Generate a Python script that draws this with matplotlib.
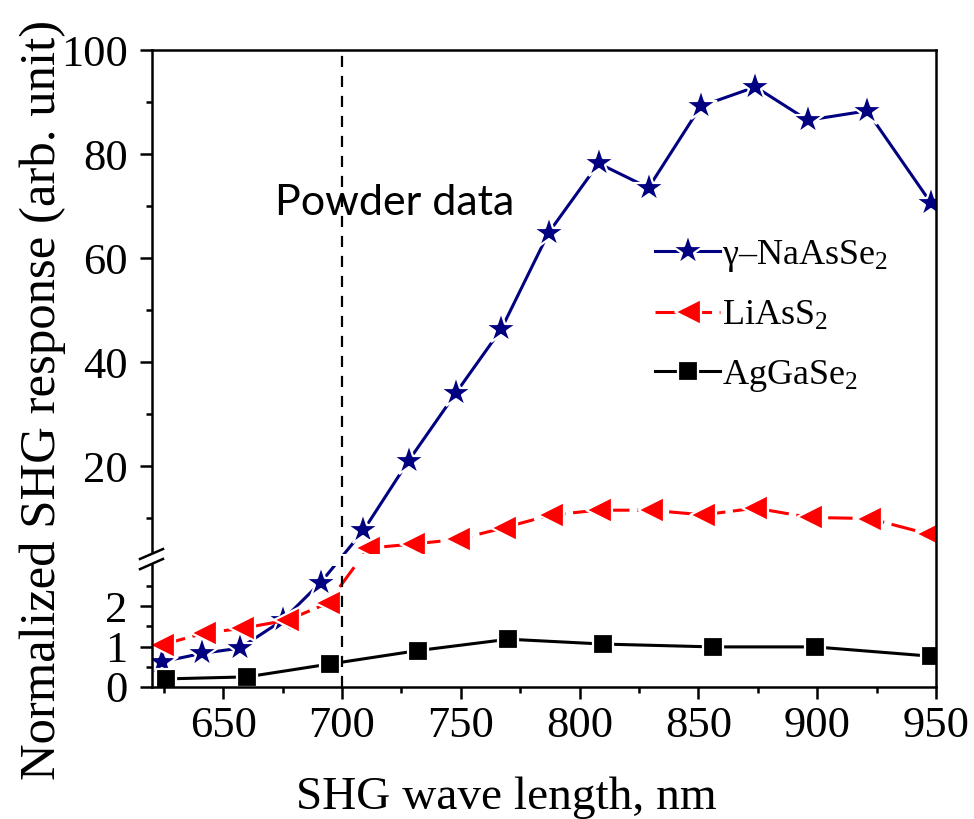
import numpy as np
import matplotlib
matplotlib.use('Agg')
import matplotlib.pyplot as plt

# data
wl_na = [624, 641, 657, 675, 691, 709, 728, 748, 767, 787, 808, 829, 851, 874, 896, 921, 948]
na = [0.62, 0.83, 0.96, 1.65, 2.58, 7.6, 21.0, 34.1, 46.3, 64.9, 78.2, 73.5, 89.2, 92.9, 86.5, 88.3, 70.5]

wl_li = [624, 642, 658, 677, 694, 711, 730, 749, 768, 788, 808, 830, 852, 874, 897, 922, 947]
li = [1.04, 1.33, 1.45, 1.65, 2.07, 4.2, 5.0, 5.9, 8.1, 10.6, 11.5, 11.5, 10.6, 11.9, 10.1, 9.9, 6.9]

wl_ag = [626, 660, 695, 732, 770, 810, 856, 899, 948]
ag = [0.2, 0.25, 0.57, 0.9, 1.18, 1.06, 0.99, 0.99, 0.76]

labels = ['γ–NaAsSe$_2$', 'LiAsS$_2$', 'AgGaSe$_2$']
xticks = [650, 700, 750, 800, 850, 900, 950]
yticks = [0, 1, 2, 20, 40, 60, 80, 100]
yminor = [0.5, 1.5, 2.5, 10, 30, 50, 70, 90]

plt.rcParams['font.family'] = ['Liberation Serif', 'DejaVu Serif']
plt.rcParams['mathtext.fontset'] = 'custom'
plt.rcParams['mathtext.rm'] = 'Liberation Serif'
plt.rcParams['mathtext.default'] = 'regular'

# broken y axis: 0-3 stretched, then 20-100 compressed (units ~ pixels)
LO, HI = 40.5, 5.2
OFF = 117.0
def fwd(y):
    y = np.asarray(y, dtype=float)
    return np.where(y <= 3, LO * y, OFF + HI * y)

def inv(v):
    v = np.asarray(v, dtype=float)
    return np.where(v <= 3 * LO, v / LO, np.where(v >= OFF + 3 * HI, (v - OFF) / HI, 3.0))

fig = plt.figure(figsize=(9.74, 8.19), dpi=100)
ax = fig.add_axes([152 / 974, 1 - 687 / 819, 784 / 974, 637 / 819])
ax.set_yscale('function', functions=(fwd, inv))

ax.axvline(700, color='black', lw=1.6, ls=(0, (5, 4)), zorder=2.3)

ax.plot(wl_na, na, color='#000080', lw=2.2, marker='*', ms=24, mec='white', mew=1.6,
        label=labels[0], zorder=2)
ax.plot(wl_li, li, color='#FF0000', lw=2.2, ls=(0, (8, 2.5)), marker='<', ms=19, mec='white', mew=1.6,
        label=labels[1], zorder=2)
ax.plot(wl_ag, ag, color='black', lw=2.2, marker='s', ms=14, mec='white', mew=1.6,
        label=labels[2], zorder=2)

# white band over the break
ax.axhspan(3, 3 + 1e-9, color='white', lw=0, zorder=2.2)

ax.set_xlim(620, 950)
ax.set_ylim(0, 100)
ax.set_xticks(xticks)
ax.set_xticks([625, 675, 725, 775, 825, 875, 925], minor=True)
ax.set_yticks(yticks)
ax.set_yticks(yminor, minor=True)
ax.set_yticklabels([str(t) for t in yticks])
ax.tick_params(which='both', direction='out', width=1.8, labelsize=32, top=False, right=False)
ax.tick_params(which='major', length=8.5, pad=5)
ax.tick_params(axis='y', which='major', pad=9)
ax.tick_params(which='minor', length=4)
for s in ax.spines.values():
    s.set_linewidth(1.8)

# break marks on the left spine
bx = [-0.0153, 0.014]
ax.fill([bx[0], bx[1], bx[1], bx[0]], [0.185, 0.201, 0.2166, 0.201], color='white',
        transform=ax.transAxes, clip_on=False, zorder=5)
ax.plot(bx, [0.201, 0.2166], color='black', lw=1.8, transform=ax.transAxes, clip_on=False, zorder=6)
ax.plot(bx, [0.185, 0.201], color='black', lw=1.8, transform=ax.transAxes, clip_on=False, zorder=6)

ax.set_xlabel('SHG wave length, nm', fontsize=34)
ax.set_ylabel('Normalized SHG response (arb. unit)', fontsize=36.5)
ax.xaxis.set_label_coords((506 - 152) / 784, -0.14)
ax.yaxis.set_label_coords(-0.11, 0.45)

fig.text(275 / 974, 1 - 215 / 819, 'Powder data', family='Lato', fontsize=31, va='baseline')

ax.legend(loc='upper left', bbox_to_anchor=(655 / 974, 1 - 238 / 819), bbox_transform=fig.transFigure,
          frameon=False, fontsize=26, borderpad=0, borderaxespad=0, handlelength=1.8,
          handletextpad=0.05, labelspacing=0.7)

fig.savefig('out.png', dpi=100)
